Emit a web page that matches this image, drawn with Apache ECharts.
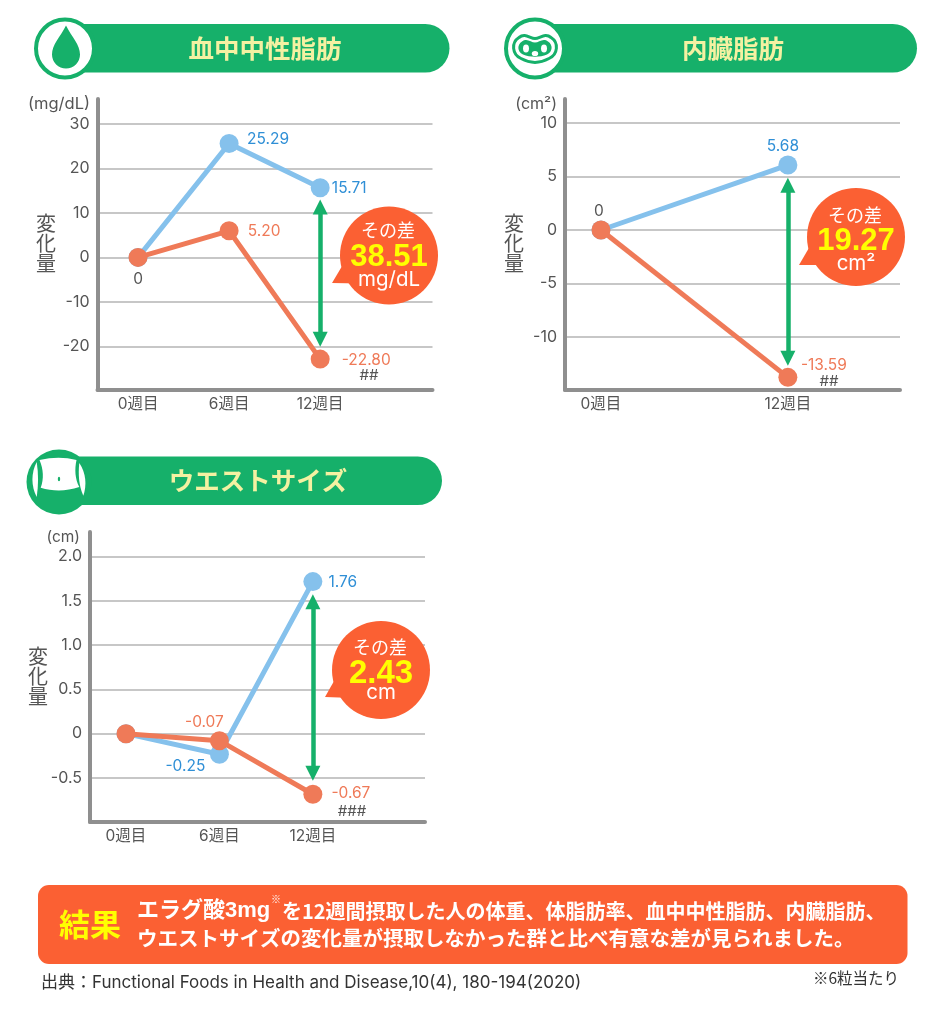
<!DOCTYPE html>
<html lang="ja">
<head>
<meta charset="utf-8">
<style>html,body{margin:0;padding:0;background:#fff}#c{width:950px;height:1010px}</style>
<script src="https://cdn.jsdelivr.net/npm/echarts@6/dist/echarts.min.js"></script>
</head>
<body>
<div id="c"></div>
<script>
// ---- data ----
const titles = ['血中中性脂肪', '内臓脂肪', 'ウエストサイズ'];
const units = ['(mg/dL)', '(cm²)', '(cm)'];
const weeksA = [0, 6, 12];
const weeksB = [0, 12];
const weeksC = [0, 6, 12];
// heights of the plotted markers
const tgBlue = [0, 25.6, 15.64];
const tgOrange = [0, 5.98, -22.86];
const vfBlue = [0, 6.07];
const vfOrange = [0, -13.77];
const waistBlue = [0, -0.233, 1.716];
const waistOrange = [0, -0.079, -0.684];
// values as printed beside the markers
const tgBlueLabels = ['', '25.29', '15.71'];
const tgOrangeLabels = ['0', '5.20', '-22.80'];
const vfBlueLabels = ['', '5.68'];
const vfOrangeLabels = ['0', '-13.59'];
const waistBlueLabels = ['', '-0.25', '1.76'];
const waistOrangeLabels = ['', '-0.07', '-0.67'];
const tgTicks = [-20, -10, 0, 10, 20, 30];
const vfTicks = [-10, -5, 0, 5, 10];
const waistTicks = [-0.5, 0, 0.5, 1.0, 1.5, 2.0];
const waistTickText = ['-0.5', '0', '0.5', '1.0', '1.5', '2.0'];
const diffValues = ['38.51', '19.27', '2.43'];
const diffUnits = ['mg/dL', 'cm²', 'cm'];
const significance = ['##', '##', '###'];
const tgArrow = [11.35, -18.4];
const vfArrow = [4.19, -11.98];
const waistArrow = [1.49, -0.446];
const resultLine1a = 'エラグ酸3mg';
const resultLine1b = 'を12週間摂取した人の体重、体脂肪率、血中中性脂肪、内臓脂肪、';
const resultLine2 = 'ウエストサイズの変化量が摂取しなかった群と比べ有意な差が見られました。';
const sourceText = '出典：Functional Foods in Health and Disease,10(4), 180-194(2020)';
const noteText = '※6粒当たり';

// ---- style / layout ----
const FONT = 'Inter,"Noto Sans CJK JP",sans-serif';
const CJK = '"Noto Sans CJK JP",sans-serif';
const HELV = '"Liberation Sans","Noto Sans CJK JP",sans-serif';
const GREEN = '#16b06a', CALLOUT = '#fb6033', BLUE = '#85c1ec', ORANGE = '#ef7a58';
const BLUE_T = '#2f8fd6', ORANGE_T = '#ef7a58', GREY = '#555555', AXIS = '#8f8f8f', SPLIT = '#b4b4b4';

const panels = [
  {grid:{left:97.5,width:335,top:99,height:291}, xr:[-2.67,19.4], yr:[-29.8,35.6], weeks:weeksA, ticks:tgTicks, tickText:null,
   blue:tgBlue, orange:tgOrange, blueL:tgBlueLabels, orangeL:tgOrangeLabels, arrow:tgArrow,
   blueOff:[null,[39,-4.5],[29,0.5]], orangeOff:[[0,21.5],[35,0.5],[46,1.5]], greyFirst:true},
  {grid:{left:565,width:335,top:99,height:291}, xr:[-2.31,19.2], yr:[-14.95,12.24], weeks:weeksB, ticks:vfTicks, tickText:null,
   blue:vfBlue, orange:vfOrange, blueL:vfBlueLabels, orangeL:vfOrangeLabels, arrow:vfArrow,
   blueOff:[null,[-5,-18.5]], orangeOff:[[-2,-18.5],[36,-12.5]], greyFirst:true},
  {grid:{left:90,width:335,top:532,height:290}, xr:[-2.31,19.2], yr:[-0.997,2.276], weeks:weeksC, ticks:waistTicks, tickText:waistTickText,
   blue:waistBlue, orange:waistOrange, blueL:waistBlueLabels, orangeL:waistOrangeLabels, arrow:waistArrow,
   blueOff:[null,[-34,12.5],[30,0.5]], orangeOff:[null,[-15,-18.5],[38,-1]], greyFirst:false}
];

function pts(weeks, vals, labels, offs, color, greyFirst) {
  return weeks.map((w, i) => ({
    value: [w, vals[i]],
    label: labels[i] ? {
      show: true, position: 'inside', offset: offs[i], formatter: labels[i],
      color: (greyFirst && i === 0) ? GREY : color, fontSize: 15.5, fontFamily: FONT
    } : {show: false}
  }));
}

const grid = [], xAxis = [], yAxis = [], series = [];
panels.forEach((p, i) => {
  grid.push(p.grid);
  xAxis.push({
    gridIndex: i, type: 'value', min: p.xr[0], max: p.xr[1], splitLine: {show: false},
    axisLine: {show: true, onZero: false, lineStyle: {color: AXIS, width: 4}},
    axisTick: {show: false, customValues: p.weeks},
    axisLabel: {customValues: p.weeks, formatter: v => v + '週目', color: GREY, fontSize: 15.5, fontFamily: FONT, margin: 7, showMinLabel: true, showMaxLabel: true}
  });
  yAxis.push({
    gridIndex: i, type: 'value', min: p.yr[0], max: p.yr[1],
    axisLine: {show: true, onZero: false, lineStyle: {color: AXIS, width: 4}},
    axisTick: {show: false, customValues: p.ticks},
    splitLine: {show: true, lineStyle: {color: SPLIT, width: 1.5}},
    axisLabel: {
      customValues: p.ticks, margin: 8, color: GREY, fontSize: 16, fontFamily: FONT,
      formatter: v => p.tickText ? p.tickText[p.ticks.findIndex(t => Math.abs(t - v) < 1e-6)] : String(v)
    }
  });
  const base = {type: 'line', xAxisIndex: i, yAxisIndex: i, symbol: 'circle', symbolSize: 19, animation: false, silent: true};
  series.push(Object.assign({}, base, {
    name: titles[i] + ' blue', z: 3, lineStyle: {color: BLUE, width: 5}, itemStyle: {color: BLUE},
    data: pts(p.weeks, p.blue, p.blueL, p.blueOff, BLUE_T, false)
  }));
  series.push(Object.assign({}, base, {
    name: titles[i] + ' orange', z: 4, lineStyle: {color: ORANGE, width: 5}, itemStyle: {color: ORANGE},
    data: pts(p.weeks, p.orange, p.orangeL, p.orangeOff, ORANGE_T, p.greyFirst),
    markLine: {
      silent: true, animation: false, symbol: ['triangle', 'triangle'], symbolSize: 15,
      label: {show: false}, lineStyle: {color: GREEN, width: 4.5, type: 'solid', opacity: 1},
      itemStyle: {color: GREEN}, emphasis: {disabled: true},
      data: [[{coord: [12, p.arrow[0]]}, {coord: [12, p.arrow[1]]}]]
    }
  }));
});

// ---- decorations ----
function svgImg(x, y, w, h, body) {
  const svg = `<svg xmlns="http://www.w3.org/2000/svg" width="${w}" height="${h}" viewBox="0 0 ${w} ${h}">${body}</svg>`;
  return {type: 'image', z: 22, style: {image: 'data:image/svg+xml;charset=utf-8,' + encodeURIComponent(svg), x, y, width: w, height: h}};
}
const G = GREEN;
const dropIcon = `<circle cx="33" cy="33" r="29" fill="#fff" stroke="${G}" stroke-width="4"/><path d="M34 10 C28 22 20 29 20 39 A13.8 13.8 0 0 0 48 39 C48 29 40 22 34 10Z" fill="${G}"/>`;
const fatIcon = `<circle cx="33" cy="33" r="29" fill="#fff" stroke="${G}" stroke-width="4"/>
<path d="M17 22 C23 17 28 23 33 23 C38 23 43 17 49 22 C57 27 56 39 47 43 C38 48 28 48 19 43 C10 39 9 27 17 22Z" fill="#fff" stroke="${G}" stroke-width="3"/>
<path d="M20 26 C25 22 29 27 33 27 C37 27 41 22 46 26 C51 29 51 36 45 39 C38 42 28 42 21 39 C15 36 15 29 20 26Z" fill="${G}"/>
<ellipse cx="24" cy="33" rx="3" ry="4" fill="#fff"/><ellipse cx="42" cy="33" rx="3" ry="4" fill="#fff"/><ellipse cx="33" cy="38" rx="3.2" ry="2.6" fill="#fff"/>`;
const waistIcon = `<circle cx="33" cy="33" r="32.5" fill="${G}"/>
<path d="M13.5 11 Q33 6.5 50.5 11 C48.5 20 49 30 53.3 38 C40 42.5 27 42.5 14.7 38.7 C18 30 17.5 20 13.5 11Z" fill="#fff"/>
<path d="M10.7 13 C5 24 5 37 10.7 48 C12.5 36 12.5 25 10.7 13Z" fill="#fff"/><path d="M53.3 14 C52 26 53 37 57.3 46.7 C61 36 60 24 53.3 14Z" fill="#fff"/>
<ellipse cx="33" cy="30" rx="1.2" ry="2.2" fill="${G}"/>`;

function header(x0, y0, x1, h, icon, iconX, iconY, title, titleX) {
  return [
    {type: 'rect', z: 21, shape: {x: x0, y: y0, width: x1 - x0, height: h, r: [0, h / 2, h / 2, 0]}, style: {fill: GREEN}},
    svgImg(iconX, iconY, 66, 66, icon),
    {type: 'text', z: 23, style: {x: titleX, y: y0 + h / 2, text: title, fill: '#f4f1a2', font: 'bold 25.5px ' + CJK, textAlign: 'center', textVerticalAlign: 'middle'}}
  ];
}
function callout(cx, cy, tipX, tipY, value, unit, offs, valueSize) {
  return [
    {type: 'polygon', z: 24, shape: {points: [[tipX, tipY], [cx - 43, cy + 4], [cx - 28, cy + 28]]}, style: {fill: CALLOUT}},
    {type: 'circle', z: 24, shape: {cx, cy, r: 49}, style: {fill: CALLOUT}},
    {type: 'text', z: 25, style: {x: cx - 1, y: cy + offs[0], text: 'その差', fill: '#fff', font: '18px ' + CJK, textAlign: 'center', textVerticalAlign: 'middle'}},
    {type: 'text', z: 25, style: {x: cx, y: cy + offs[1], text: value, fill: '#ffff00', font: 'bold ' + valueSize + 'px ' + HELV, textAlign: 'center', textVerticalAlign: 'middle'}},
    {type: 'text', z: 25, style: {x: cx, y: cy + offs[2], text: unit, fill: '#fff', font: '20.5px ' + FONT, textAlign: 'center', textVerticalAlign: 'middle'}}
  ];
}
function plain(x, y, text, font, fill, align, family) {
  return {type: 'text', z: 25, style: {x, y, text, font: font + ' ' + (family || FONT), fill: fill, textAlign: align || 'left', textVerticalAlign: 'middle'}};
}
function vlabel(x, cy) {
  return {type: 'text', z: 25, style: {x, y: cy, text: '変\n化\n量', font: '20px ' + CJK, lineHeight: 20, fill: GREY, textAlign: 'center', textVerticalAlign: 'middle'}};
}

const elements = [].concat(
  header(65, 24, 449.5, 48.5, dropIcon, 32, 15.5, titles[0], 265),
  header(535, 24, 917, 48.5, fatIcon, 502, 15.5, titles[1], 733),
  header(59, 456.5, 442, 48.5, waistIcon, 26, 449, titles[2], 258),
  callout(389, 255.5, 332, 283, diffValues[0], diffUnits[0], [-25.5, 1.5, 24.5], 31),
  callout(856, 237, 799, 265, diffValues[1], diffUnits[1], [-22, 4.5, 26.5], 31),
  callout(381, 670, 325, 697, diffValues[2], diffUnits[2], [-23, 3.5, 23], 33),
  [
    plain(90, 104, units[0], '16.5px', GREY, 'right'),
    plain(557, 104, units[1], '16px', GREY, 'right'),
    plain(80, 537, units[2], '15.5px', GREY, 'right'),
    vlabel(46, 243), vlabel(514, 243), vlabel(38, 676),
    plain(369, 375, significance[0], '15px', GREY, 'center'),
    plain(829, 381, significance[1], '15px', GREY, 'center'),
    plain(352, 811, significance[2], '15px', GREY, 'center'),
    {type: 'rect', z: 21, shape: {x: 38, y: 885, width: 869.5, height: 79, r: 11}, style: {fill: CALLOUT}},
    plain(90, 924, '結果', 'bold 31px', '#ffff00', 'center', CJK),
    plain(137, 911, resultLine1a, 'bold 22px', '#fff', 'left', HELV),
    plain(271, 899, '※', '10px', '#fff', 'left', CJK),
    plain(282, 911, resultLine1b, 'bold 20px', '#fff', 'left', CJK),
    plain(137, 938, resultLine2, 'bold 20.5px', '#fff', 'left', CJK),
    plain(41, 983, sourceText, '17px', '#333'),
    plain(899, 978, noteText, '15.5px', '#333', 'right', CJK)
  ]
);

const chart = echarts.init(document.getElementById('c'), null, {renderer: 'canvas', width: 950, height: 1010});
chart.setOption({animation: false, backgroundColor: '#fff', grid, xAxis, yAxis, series, graphic: {elements}});
</script>
</body>
</html>
